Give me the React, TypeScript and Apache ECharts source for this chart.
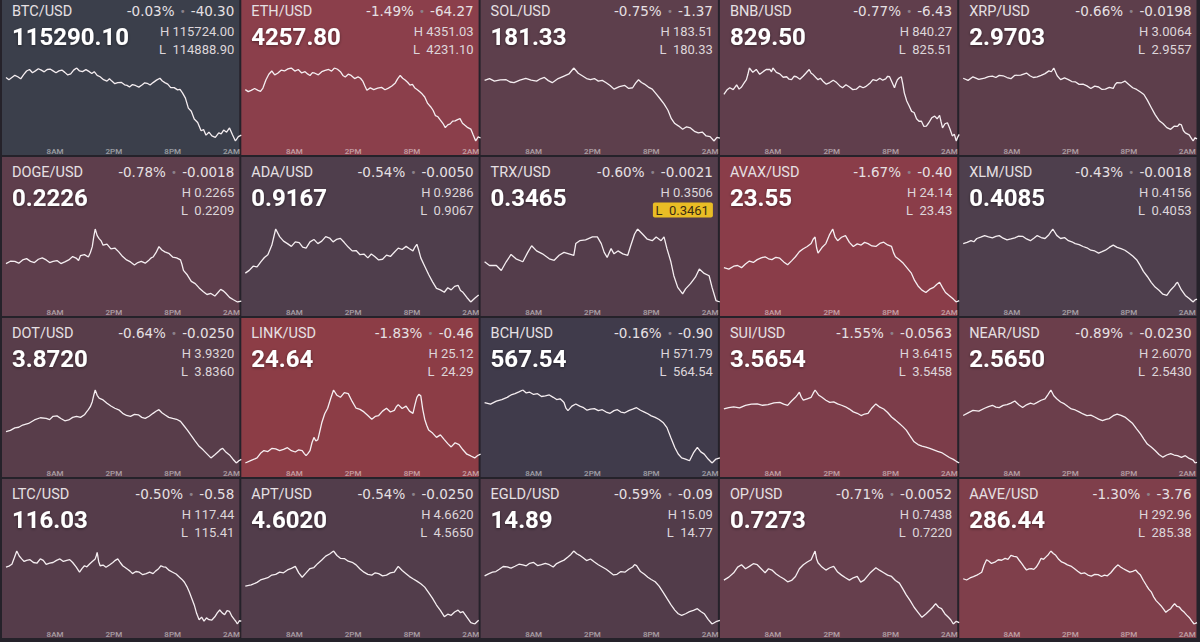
import React, { useEffect, useRef } from "react";
import * as echarts from "echarts";

const PAIRS = ["BTC/USD","ETH/USD","SOL/USD","BNB/USD","XRP/USD","DOGE/USD","ADA/USD","TRX/USD","AVAX/USD","XLM/USD","DOT/USD","LINK/USD","BCH/USD","SUI/USD","NEAR/USD","LTC/USD","APT/USD","EGLD/USD","OP/USD","AAVE/USD"];
const LAST = ["115290.10","4257.80","181.33","829.50","2.9703","0.2226","0.9167","0.3465","23.55","0.4085","3.8720","24.64","567.54","3.5654","2.5650","116.03","4.6020","14.89","0.7273","286.44"];
const CHANGE_PCT = ["-0.03%","-1.49%","-0.75%","-0.77%","-0.66%","-0.78%","-0.54%","-0.60%","-1.67%","-0.43%","-0.64%","-1.83%","-0.16%","-1.55%","-0.89%","-0.50%","-0.54%","-0.59%","-0.71%","-1.30%"];
const CHANGE_ABS = ["-40.30","-64.27","-1.37","-6.43","-0.0198","-0.0018","-0.0050","-0.0021","-0.40","-0.0018","-0.0250","-0.46","-0.90","-0.0563","-0.0230","-0.58","-0.0250","-0.09","-0.0052","-3.76"];
const HIGH = ["115724.00","4351.03","183.51","840.27","3.0064","0.2265","0.9286","0.3506","24.14","0.4156","3.9320","25.12","571.79","3.6415","2.6070","117.44","4.6620","15.09","0.7438","292.96"];
const LOW = ["114888.90","4231.10","180.33","825.51","2.9557","0.2209","0.9067","0.3461","23.43","0.4053","3.8360","24.29","564.54","3.5458","2.5430","115.41","4.5650","14.77","0.7220","285.38"];
const LOW_HIGHLIGHTED = ["TRX/USD"];
const TIME_TICKS = [5, 11, 17, 23];
const TIME_LABELS = ["8AM", "2PM", "8PM", "2AM"];

// [hours since 3AM, price]
const BTC = [[0,115615],[0.3,115590],[0.6,115615],[0.9,115640],[1.2,115624],[1.5,115600],[1.8,115649],[2.1,115690],[2.4,115707],[2.7,115670],[3.0,115691],[3.3,115715],[3.6,115699],[3.9,115680],[4.2,115707],[4.5,115712],[4.8,115691],[5.1,115670],[5.4,115691],[5.7,115700],[6.0,115674],[6.3,115645],[6.6,115657],[6.9,115700],[7.2,115724],[7.5,115690],[7.8,115682],[8.15,115705],[8.5,115682],[8.75,115660],[9.0,115682],[9.3,115640],[9.6,115624],[9.95,115590],[10.3,115574],[10.55,115600],[10.8,115574],[11.1,115545],[11.4,115557],[11.75,115560],[12.1,115532],[12.35,115525],[12.6,115507],[12.9,115535],[13.2,115524],[13.55,115505],[13.9,115532],[14.15,115555],[14.4,115549],[14.7,115530],[15.0,115557],[15.35,115585],[15.7,115607],[15.95,115575],[16.2,115557],[16.5,115540],[16.8,115499],[17.15,115500],[17.5,115474],[17.75,115480],[18.0,115440],[18.3,115380],[18.6,115265],[18.9,115230],[19.2,115140],[19.55,115100],[19.9,115006],[20.15,115020],[20.4,114956],[20.7,114990],[21.0,114947],[21.35,114930],[21.7,114981],[21.95,114970],[22.2,115014],[22.5,114990],[22.8,115039],[23.1,114960],[23.4,114889],[23.7,114940],[24.0,114956]];
const ETH = [[0,4316.2],[0.3,4313.0],[0.6,4315.1],[0.95,4318.0],[1.3,4315.1],[1.55,4313.5],[1.8,4318.7],[2.1,4331.8],[2.4,4341.0],[2.7,4346.2],[3.0,4340.0],[3.3,4342.6],[3.65,4347.5],[4.0,4346.2],[4.35,4349.5],[4.7,4351.0],[5.05,4346.0],[5.4,4348.6],[5.75,4343.0],[6.1,4345.0],[6.35,4341.5],[6.6,4339.0],[6.85,4343.5],[7.1,4342.6],[7.45,4340.0],[7.8,4345.0],[8.15,4347.0],[8.5,4348.6],[8.8,4346.0],[9.1,4351.0],[9.4,4349.0],[9.7,4345.0],[9.95,4339.0],[10.2,4336.6],[10.5,4341.0],[10.8,4339.0],[11.15,4334.0],[11.5,4336.6],[11.75,4334.5],[12.0,4329.4],[12.2,4322.0],[12.4,4315.1],[12.75,4319.0],[13.1,4316.2],[13.5,4318.5],[13.9,4319.8],[14.25,4316.0],[14.6,4318.7],[14.95,4322.0],[15.3,4327.0],[15.55,4334.0],[15.8,4339.0],[16.05,4334.5],[16.3,4331.8],[16.55,4328.0],[16.8,4323.4],[17.05,4324.5],[17.3,4318.7],[17.55,4316.0],[17.8,4312.7],[18.05,4309.0],[18.3,4304.3],[18.6,4294.0],[18.9,4288.7],[19.15,4283.0],[19.4,4274.3],[19.65,4272.5],[19.9,4267.1],[20.15,4262.0],[20.4,4255.1],[20.65,4259.5],[20.9,4261.1],[21.15,4265.5],[21.4,4265.9],[21.65,4268.0],[21.9,4269.5],[22.15,4262.0],[22.4,4258.7],[22.7,4255.0],[23.0,4252.7],[23.25,4243.0],[23.5,4233.5],[23.75,4240.0],[24.0,4238.3]];
const SOL = [[0,182.97],[0.5,183.05],[1.0,182.94],[1.6,182.99],[2.2,183.00],[2.6,182.90],[3.0,182.87],[3.6,182.98],[4.2,183.06],[4.75,182.98],[5.3,182.94],[5.7,183.04],[6.1,183.10],[6.5,182.96],[6.9,182.87],[7.5,183.05],[8.1,183.16],[8.6,183.25],[9.1,183.51],[9.55,183.28],[10.0,183.16],[10.4,183.05],[10.8,183.00],[11.2,183.05],[11.6,182.94],[12.0,182.97],[12.4,182.87],[12.8,182.75],[13.2,182.59],[13.75,182.70],[14.3,182.75],[14.7,182.62],[15.1,182.65],[15.4,182.85],[15.7,183.00],[16.0,182.88],[16.3,182.81],[16.7,182.68],[17.1,182.59],[17.5,182.38],[17.9,182.17],[18.3,181.95],[18.7,181.67],[19.05,181.30],[19.4,181.09],[19.8,180.98],[20.2,180.84],[20.6,180.95],[21.0,180.90],[21.4,180.75],[21.8,180.68],[22.2,180.72],[22.6,180.55],[23.0,180.52],[23.4,180.33],[23.7,180.49],[24.0,180.46]];
const BNB = [[0,834.96],[0.3,835.8],[0.6,836.28],[0.95,835.9],[1.3,836.88],[1.55,836.0],[1.8,836.43],[2.05,837.2],[2.3,837.91],[2.45,839.0],[2.6,840.27],[2.95,839.4],[3.3,839.97],[3.65,839.0],[4.0,839.53],[4.35,840.0],[4.7,839.97],[4.85,839.5],[5.0,840.27],[5.35,839.4],[5.7,839.09],[6.05,838.4],[6.4,838.50],[6.65,838.0],[6.9,837.91],[7.15,838.6],[7.4,838.50],[7.75,838.0],[8.1,838.65],[8.4,839.3],[8.7,839.97],[8.9,839.2],[9.1,838.94],[9.35,838.4],[9.6,837.91],[9.85,838.2],[10.1,837.61],[10.45,837.0],[10.8,837.32],[11.15,837.8],[11.5,837.32],[11.8,836.7],[12.1,836.28],[12.45,836.9],[12.8,836.43],[13.15,835.9],[13.5,835.99],[13.85,836.6],[14.2,836.28],[14.45,836.5],[14.7,836.88],[14.95,837.3],[15.2,837.91],[15.55,837.7],[15.9,838.20],[16.2,837.8],[16.5,838.06],[16.7,838.6],[16.9,838.50],[17.15,837.4],[17.4,836.28],[17.55,837.2],[17.7,837.91],[17.9,838.3],[18.1,838.50],[18.25,837.0],[18.4,835.25],[18.65,833.6],[18.9,832.59],[19.15,831.5],[19.4,831.27],[19.65,830.0],[19.9,829.50],[20.15,829.5],[20.4,828.46],[20.65,828.5],[20.9,829.20],[21.2,830.2],[21.5,830.53],[21.75,830.0],[22.0,830.68],[22.15,829.4],[22.3,828.17],[22.55,829.0],[22.8,829.20],[23.05,828.0],[23.3,826.54],[23.5,826.9],[23.7,825.51],[23.85,826.3],[24.0,826.84]];
const XRP = [[0,2.9993],[0.5,2.9978],[1.0,3.0003],[1.6,2.9985],[2.2,2.9993],[2.6,3.0004],[3.0,3.0008],[3.35,2.9998],[3.7,3.0013],[4.1,3.0010],[4.5,2.9998],[4.9,2.9990],[5.3,3.0013],[5.9,3.0015],[6.5,3.0029],[6.85,3.0010],[7.2,2.9998],[7.6,3.0002],[8.0,3.0013],[8.4,3.0025],[8.8,3.0044],[9.05,3.0038],[9.3,3.0064],[9.65,3.0010],[10.0,2.9983],[10.4,2.9995],[10.8,2.9983],[11.15,2.9970],[11.5,2.9968],[11.9,2.9950],[12.3,2.9952],[12.7,2.9940],[13.1,2.9922],[13.5,2.9938],[13.9,2.9932],[14.25,2.9915],[14.6,2.9917],[15.0,2.9930],[15.4,2.9922],[15.6,2.9950],[15.8,2.9963],[16.2,2.9960],[16.6,2.9973],[17.0,2.9950],[17.4,2.9927],[17.8,2.9915],[18.2,2.9897],[18.55,2.9880],[18.9,2.9841],[19.3,2.9790],[19.7,2.9740],[20.1,2.9700],[20.5,2.9679],[20.9,2.9650],[21.3,2.9638],[21.65,2.9660],[22.0,2.9658],[22.2,2.9675],[22.4,2.9669],[22.6,2.9630],[22.8,2.9613],[23.2,2.9600],[23.6,2.9557],[23.8,2.9580],[24.0,2.9572]];
const DOGE = [[0,0.22387],[0.45,0.22405],[0.9,0.22404],[1.3,0.2239],[1.7,0.22415],[2.1,0.22425],[2.5,0.22404],[2.9,0.22395],[3.3,0.2242],[3.7,0.2243],[4.1,0.22415],[4.45,0.22395],[4.8,0.22404],[5.2,0.2241],[5.6,0.22387],[6.0,0.224],[6.4,0.22415],[6.8,0.2244],[7.2,0.22426],[7.4,0.2241],[7.6,0.22448],[8.0,0.22455],[8.4,0.22437],[8.6,0.2247],[8.8,0.22516],[8.95,0.2259],[9.1,0.2265],[9.3,0.226],[9.5,0.22577],[9.7,0.2256],[9.9,0.22527],[10.3,0.22535],[10.7,0.22499],[11.1,0.22505],[11.5,0.22476],[11.9,0.2244],[12.3,0.22415],[12.7,0.224],[13.1,0.22376],[13.45,0.22395],[13.8,0.22404],[14.2,0.2239],[14.6,0.22415],[14.8,0.2243],[15.0,0.22437],[15.3,0.2247],[15.6,0.22516],[15.9,0.2249],[16.2,0.22476],[16.6,0.22465],[17.0,0.22437],[17.4,0.2243],[17.8,0.22415],[17.95,0.2238],[18.1,0.22336],[18.5,0.223],[18.9,0.22252],[19.3,0.22235],[19.7,0.22202],[20.1,0.22175],[20.5,0.22152],[20.9,0.2216],[21.3,0.2214],[21.6,0.22165],[21.9,0.22191],[22.15,0.2218],[22.4,0.22163],[22.8,0.2213],[23.2,0.22112],[23.6,0.22095],[24.0,0.22101]];
const ADA = [[0,0.915],[0.4,0.9158],[0.8,0.917],[1.2,0.9168],[1.6,0.9183],[1.95,0.9195],[2.3,0.9203],[2.7,0.923],[3.1,0.9277],[3.5,0.9255],[3.9,0.9242],[4.3,0.9235],[4.7,0.9227],[5.1,0.924],[5.5,0.9238],[5.85,0.9225],[6.2,0.9222],[6.6,0.924],[7.0,0.9247],[7.4,0.9235],[7.8,0.9242],[8.2,0.9255],[8.6,0.9251],[8.95,0.924],[9.3,0.9247],[9.7,0.925],[10.1,0.9238],[10.5,0.9225],[10.9,0.9214],[11.3,0.9215],[11.7,0.9203],[12.1,0.9205],[12.5,0.9194],[12.85,0.9205],[13.2,0.9198],[13.6,0.9188],[14.0,0.919],[14.4,0.9202],[14.8,0.9198],[15.2,0.921],[15.6,0.9222],[16.0,0.9218],[16.4,0.9227],[16.75,0.922],[17.1,0.9214],[17.3,0.9225],[17.5,0.9233],[17.7,0.9215],[17.9,0.9194],[18.3,0.917],[18.7,0.9146],[19.1,0.9125],[19.5,0.9106],[19.9,0.9102],[20.3,0.9095],[20.65,0.9108],[21.0,0.9102],[21.35,0.9112],[21.7,0.9115],[21.95,0.91],[22.2,0.9095],[22.6,0.908],[23.0,0.9067],[23.4,0.9078],[23.8,0.9087]];
const TRX = [[0,0.34858],[0.5,0.34835],[1.2,0.34835],[1.7,0.34804],[2.2,0.34858],[2.7,0.34903],[3.2,0.34876],[3.9,0.34858],[4.4,0.34916],[4.8,0.34957],[5.3,0.34925],[5.9,0.34907],[6.6,0.34876],[7.1,0.34867],[7.6,0.34898],[8.1,0.34916],[8.6,0.34907],[9.1,0.34898],[9.3,0.3497],[9.7,0.34988],[10.3,0.34993],[11.0,0.35011],[11.5,0.35011],[11.9,0.3497],[12.2,0.34916],[12.5,0.34885],[12.9,0.34939],[13.2,0.34907],[13.6,0.34925],[14.1,0.34907],[14.6,0.34898],[14.9,0.34957],[15.3,0.35029],[15.6,0.3506],[16.1,0.35029],[16.6,0.34997],[17.1,0.34988],[17.5,0.35011],[18.0,0.34988],[18.3,0.35011],[18.6,0.34939],[19.0,0.34858],[19.3,0.34772],[19.7,0.347],[20.2,0.3466],[20.5,0.34691],[21.0,0.34723],[21.5,0.34763],[21.9,0.34813],[22.4,0.34786],[22.9,0.34772],[23.2,0.347],[23.6,0.34619],[24.0,0.3461]];
const AVAX = [[0,23.764],[0.5,23.75],[1.0,23.778],[1.4,23.785],[1.8,23.764],[2.2,23.8],[2.6,23.828],[3.0,23.815],[3.4,23.842],[3.8,23.86],[4.2,23.87],[4.55,23.85],[4.9,23.842],[5.3,23.865],[5.7,23.856],[6.1,23.82],[6.5,23.792],[6.9,23.83],[7.3,23.87],[7.7,23.92],[8.1,23.948],[8.5,23.97],[8.9,23.998],[9.1,24.04],[9.3,24.062],[9.45,23.96],[9.6,23.906],[10.0,23.96],[10.4,23.998],[10.75,24.08],[11.1,24.14],[11.35,24.06],[11.6,24.026],[12.0,24.06],[12.4,24.076],[12.8,24.01],[13.2,23.97],[13.6,23.995],[14.0,23.984],[14.35,24.01],[14.7,23.998],[15.1,23.975],[15.5,23.97],[15.9,24.0],[16.3,24.012],[16.7,23.985],[17.1,23.97],[17.3,23.91],[17.5,23.87],[17.9,23.84],[18.3,23.806],[18.7,23.76],[19.1,23.714],[19.45,23.64],[19.8,23.586],[20.2,23.545],[20.6,23.522],[21.0,23.555],[21.4,23.572],[21.7,23.6],[22.0,23.622],[22.3,23.57],[22.6,23.522],[23.0,23.49],[23.4,23.458],[23.7,23.43],[24.0,23.444]];
const XLM = [[0,0.41354],[0.4,0.4137],[0.8,0.41395],[1.1,0.4138],[1.4,0.41426],[1.8,0.41445],[2.2,0.41467],[2.6,0.4145],[3.0,0.41436],[3.35,0.41455],[3.7,0.41467],[4.1,0.4143],[4.5,0.41406],[4.9,0.4142],[5.3,0.41436],[5.7,0.4146],[6.1,0.41457],[6.5,0.4142],[6.9,0.41395],[7.25,0.4143],[7.6,0.41467],[8.0,0.4144],[8.4,0.41426],[8.8,0.4148],[9.2,0.4156],[9.6,0.4147],[10.0,0.41426],[10.4,0.4144],[10.8,0.41395],[11.15,0.4138],[11.5,0.41354],[11.9,0.4134],[12.3,0.41313],[12.7,0.41295],[13.1,0.41261],[13.5,0.4125],[13.9,0.4122],[14.25,0.4124],[14.6,0.41261],[15.0,0.413],[15.4,0.41333],[15.8,0.413],[16.2,0.41282],[16.6,0.4126],[17.0,0.4122],[17.4,0.4118],[17.8,0.41127],[18.15,0.4105],[18.5,0.40963],[18.9,0.4089],[19.3,0.40808],[19.7,0.4074],[20.1,0.40695],[20.5,0.4064],[20.9,0.40623],[21.3,0.407],[21.7,0.40757],[21.85,0.4079],[22.0,0.40808],[22.4,0.407],[22.8,0.40623],[23.2,0.4058],[23.6,0.4053],[23.8,0.4056],[24.0,0.40571]];
const DOT = [[0,3.8773],[0.45,3.879],[0.9,3.8821],[1.3,3.883],[1.7,3.8859],[2.3,3.888],[2.9,3.8926],[3.5,3.8955],[4.1,3.8946],[4.45,3.893],[4.8,3.8974],[5.2,3.898],[5.6,3.8946],[6.0,3.8915],[6.4,3.8926],[6.8,3.896],[7.2,3.8974],[7.6,3.896],[8.0,3.8994],[8.2,3.903],[8.4,3.9061],[8.6,3.91],[8.8,3.9166],[8.95,3.925],[9.1,3.932],[9.3,3.925],[9.5,3.9214],[9.9,3.919],[10.3,3.9147],[10.7,3.911],[11.1,3.908],[11.5,3.906],[11.9,3.9013],[12.3,3.8985],[12.7,3.8974],[13.1,3.9],[13.5,3.8994],[13.85,3.896],[14.2,3.8946],[14.6,3.8975],[15.0,3.9013],[15.3,3.904],[15.6,3.9061],[15.9,3.902],[16.2,3.8994],[16.6,3.896],[17.0,3.8946],[17.4,3.8935],[17.8,3.8907],[18.15,3.885],[18.5,3.8792],[18.9,3.872],[19.3,3.8648],[19.7,3.858],[20.1,3.8533],[20.5,3.848],[20.9,3.8427],[21.3,3.847],[21.7,3.8514],[21.9,3.854],[22.1,3.8552],[22.45,3.85],[22.8,3.8466],[23.15,3.841],[23.5,3.836],[23.75,3.839],[24.0,3.8408]];
const LINK = [[0,24.29],[0.6,24.32],[1.2,24.348],[1.55,24.4],[1.9,24.431],[2.3,24.42],[2.7,24.456],[3.1,24.45],[3.5,24.431],[3.9,24.445],[4.3,24.464],[4.7,24.43],[5.1,24.415],[5.45,24.44],[5.8,24.431],[6.0,24.4],[6.2,24.373],[6.4,24.4],[6.6,24.431],[6.8,24.52],[7.0,24.581],[7.2,24.54],[7.4,24.556],[7.6,24.65],[7.8,24.747],[8.1,24.85],[8.4,24.913],[8.7,25.02],[9.0,25.12],[9.35,25.06],[9.7,25.037],[10.1,25.09],[10.5,25.079],[10.9,24.99],[11.3,24.913],[11.7,24.9],[12.1,24.871],[12.5,24.83],[12.9,24.788],[13.25,24.82],[13.6,24.83],[14.0,24.88],[14.4,24.913],[14.8,24.87],[15.2,24.888],[15.4,24.93],[15.6,24.954],[16.0,24.91],[16.4,24.937],[16.75,24.88],[17.1,24.854],[17.3,24.95],[17.5,25.037],[17.7,25.07],[17.9,25.054],[18.1,24.9],[18.3,24.788],[18.5,24.72],[18.7,24.664],[19.1,24.63],[19.5,24.581],[19.9,24.61],[20.3,24.556],[20.65,24.51],[21.0,24.473],[21.4,24.52],[21.8,24.498],[22.2,24.44],[22.6,24.39],[23.0,24.37],[23.4,24.348],[23.7,24.375],[24.0,24.39]];
const BCH = [[0,570.56],[0.6,570.4],[1.2,570.7],[1.75,570.85],[2.3,571.07],[2.7,571.3],[3.1,571.43],[3.5,571.6],[3.9,571.79],[4.25,571.5],[4.6,571.57],[5.0,571.35],[5.4,571.43],[5.8,571.15],[6.2,571.21],[6.6,571.3],[7.0,571.07],[7.35,570.85],[7.7,570.92],[7.9,570.75],[8.1,570.56],[8.3,570.0],[8.5,569.76],[8.9,570.2],[9.3,570.41],[9.7,570.2],[10.1,570.05],[10.45,569.8],[10.8,569.91],[11.2,569.95],[11.6,569.76],[12.0,569.85],[12.4,569.62],[12.8,569.5],[13.2,569.76],[13.55,569.85],[13.9,569.62],[14.3,569.55],[14.7,569.76],[15.1,569.9],[15.5,570.05],[15.9,569.8],[16.3,569.62],[16.65,569.45],[17.0,569.25],[17.4,569.1],[17.8,568.89],[18.2,568.6],[18.6,568.09],[19.0,567.1],[19.4,566.14],[19.75,565.5],[20.1,565.12],[20.5,565.0],[20.9,564.83],[21.3,565.6],[21.7,566.14],[22.05,565.7],[22.4,565.48],[22.8,565.0],[23.2,564.61],[23.6,565.0],[24.0,565.12]];
const SUI = [[0,3.6166],[0.5,3.6185],[1.0,3.6195],[1.6,3.618],[2.2,3.6214],[2.8,3.623],[3.4,3.6233],[3.95,3.6215],[4.5,3.6224],[5.1,3.6245],[5.7,3.6252],[6.1,3.623],[6.5,3.6214],[6.9,3.627],[7.3,3.6319],[7.5,3.635],[7.7,3.6386],[7.9,3.632],[8.1,3.6281],[8.5,3.63],[8.9,3.6319],[9.1,3.637],[9.3,3.6415],[9.65,3.635],[10.0,3.6319],[10.4,3.628],[10.8,3.6252],[11.2,3.626],[11.6,3.6233],[12.0,3.6215],[12.4,3.6195],[12.8,3.6165],[13.2,3.6128],[13.6,3.611],[14.0,3.608],[14.35,3.61],[14.7,3.6109],[15.1,3.618],[15.5,3.6233],[15.9,3.619],[16.3,3.6166],[16.7,3.612],[17.1,3.6061],[17.5,3.602],[17.9,3.5975],[18.25,3.5935],[18.6,3.5889],[19.0,3.581],[19.4,3.5736],[19.8,3.57],[20.2,3.5678],[20.6,3.5665],[21.0,3.5649],[21.4,3.563],[21.8,3.5611],[22.2,3.5595],[22.6,3.5563],[23.0,3.553],[23.4,3.5506],[23.7,3.548],[24.0,3.5458]];
const NEAR = [[0,2.5846],[0.5,2.587],[1.0,2.5891],[1.6,2.5885],[2.2,2.591],[2.6,2.5925],[3.0,2.5936],[3.35,2.592],[3.7,2.5916],[4.1,2.5935],[4.5,2.5942],[4.9,2.5955],[5.3,2.5974],[5.7,2.594],[6.1,2.5916],[6.5,2.594],[6.9,2.5955],[7.25,2.5945],[7.6,2.5961],[8.0,2.598],[8.4,2.5993],[8.7,2.603],[9.0,2.607],[9.3,2.602],[9.6,2.5993],[10.0,2.5965],[10.4,2.5948],[10.75,2.5925],[11.1,2.5904],[11.5,2.5895],[11.9,2.5878],[12.3,2.586],[12.7,2.5846],[13.1,2.585],[13.5,2.5833],[13.9,2.5815],[14.3,2.5801],[14.65,2.5812],[15.0,2.582],[15.4,2.5845],[15.8,2.5859],[16.2,2.5848],[16.6,2.5833],[17.0,2.5805],[17.4,2.5776],[17.8,2.573],[18.2,2.5686],[18.55,2.564],[18.9,2.5596],[19.3,2.557],[19.7,2.5539],[20.1,2.5505],[20.5,2.5481],[20.9,2.55],[21.3,2.5513],[21.65,2.55],[22.0,2.5494],[22.4,2.548],[22.8,2.5494],[23.2,2.547],[23.6,2.5456],[23.8,2.543],[24.0,2.5436]];
const LTC = [[0,116.99],[0.3,117.02],[0.6,117.07],[0.85,117.25],[1.1,117.44],[1.35,117.3],[1.6,117.22],[1.85,117.15],[2.1,117.18],[2.45,117.2],[2.8,117.12],[3.15,117.1],[3.5,117.22],[3.8,117.18],[4.1,117.07],[4.45,117.1],[4.8,117.12],[5.15,117.18],[5.5,117.22],[5.85,117.15],[6.2,117.18],[6.5,117.2],[6.8,117.12],[7.15,117.0],[7.5,116.85],[7.75,116.95],[8.0,117.03],[8.25,117.0],[8.5,117.07],[8.8,117.15],[9.1,117.22],[9.2,117.3],[9.3,117.4],[9.45,117.15],[9.6,117.03],[9.9,117.05],[10.2,116.99],[10.55,117.05],[10.9,117.12],[11.15,117.18],[11.4,117.22],[11.65,117.12],[11.9,117.03],[12.15,116.98],[12.4,116.93],[12.65,116.88],[12.9,116.81],[13.25,116.87],[13.6,116.85],[13.95,116.78],[14.3,116.81],[14.65,116.85],[15.0,116.81],[15.25,116.88],[15.5,116.93],[15.65,116.98],[15.8,117.03],[16.05,117.0],[16.3,116.99],[16.65,116.9],[17.0,116.85],[17.35,116.8],[17.7,116.71],[17.95,116.65],[18.2,116.57],[18.45,116.45],[18.7,116.3],[18.95,116.12],[19.2,115.94],[19.45,115.7],[19.7,115.53],[19.95,115.6],[20.2,115.49],[20.45,115.58],[20.7,115.53],[21.0,115.52],[21.3,115.61],[21.55,115.72],[21.8,115.8],[22.05,115.72],[22.3,115.67],[22.55,115.78],[22.8,115.76],[23.05,115.62],[23.3,115.53],[23.45,115.48],[23.6,115.41],[23.8,115.5],[24.0,115.49]];
const APT = [[0,4.6154],[0.6,4.617],[1.2,4.6203],[1.55,4.6235],[1.9,4.6251],[2.3,4.6265],[2.7,4.63],[3.1,4.631],[3.5,4.6339],[3.9,4.633],[4.3,4.6368],[4.7,4.639],[5.1,4.6416],[5.45,4.633],[5.8,4.6271],[6.2,4.633],[6.6,4.6387],[7.0,4.64],[7.4,4.6455],[7.8,4.65],[8.2,4.6552],[8.6,4.658],[9.0,4.662],[9.35,4.656],[9.7,4.6523],[10.1,4.652],[10.5,4.6484],[10.9,4.647],[11.3,4.6436],[11.7,4.638],[12.1,4.6339],[12.5,4.631],[12.9,4.63],[13.25,4.633],[13.6,4.6319],[14.0,4.629],[14.4,4.63],[14.8,4.633],[15.2,4.6339],[15.4,4.638],[15.6,4.6416],[16.0,4.636],[16.4,4.6319],[16.75,4.628],[17.1,4.6251],[17.5,4.622],[17.9,4.6184],[18.3,4.614],[18.7,4.6067],[19.1,4.599],[19.5,4.5902],[19.9,4.583],[20.3,4.5747],[20.65,4.578],[21.0,4.5766],[21.35,4.581],[21.7,4.5834],[21.95,4.58],[22.2,4.5815],[22.6,4.574],[23.0,4.5669],[23.4,4.565],[23.8,4.5699]];
const EGLD = [[0,14.981],[0.4,14.99],[0.8,14.997],[1.15,15.0],[1.5,15.01],[1.9,15.022],[2.3,15.02],[2.7,15.015],[3.1,15.023],[3.5,15.032],[3.9,15.029],[4.25,15.025],[4.6,15.036],[5.0,15.04],[5.4,15.026],[5.8,15.03],[6.2,15.036],[6.6,15.03],[7.0,15.02],[7.35,15.035],[7.7,15.042],[8.1,15.05],[8.5,15.064],[8.8,15.075],[9.1,15.09],[9.4,15.078],[9.7,15.071],[10.05,15.06],[10.4,15.048],[10.8,15.055],[11.2,15.042],[11.6,15.03],[12.0,15.02],[12.4,15.01],[12.8,14.997],[13.15,14.985],[13.5,14.988],[13.9,15.0],[14.3,14.997],[14.7,15.01],[15.1,15.02],[15.3,15.03],[15.5,15.026],[15.9,15.0],[16.3,14.988],[16.65,14.975],[17.0,14.965],[17.4,14.955],[17.8,14.936],[18.2,14.91],[18.6,14.882],[19.0,14.855],[19.4,14.831],[19.75,14.815],[20.1,14.808],[20.5,14.815],[20.9,14.824],[21.3,14.83],[21.7,14.837],[22.05,14.825],[22.4,14.815],[22.8,14.79],[23.2,14.77],[23.6,14.78],[24.0,14.786]];
const OP = [[0,0.7351],[0.5,0.736],[1.0,0.7373],[1.4,0.739],[1.8,0.7397],[2.2,0.7385],[2.6,0.7392],[3.0,0.74],[3.4,0.7397],[3.8,0.7385],[4.2,0.7373],[4.55,0.7385],[4.9,0.7381],[5.3,0.737],[5.7,0.7362],[6.1,0.7355],[6.5,0.7346],[6.9,0.735],[7.3,0.7362],[7.7,0.7385],[8.1,0.7397],[8.5,0.7405],[8.9,0.7412],[9.1,0.7425],[9.3,0.7438],[9.45,0.7415],[9.6,0.7403],[10.0,0.739],[10.4,0.7381],[10.8,0.7388],[11.2,0.7392],[11.6,0.7375],[12.0,0.7366],[12.4,0.7358],[12.8,0.7351],[13.2,0.7358],[13.6,0.7362],[13.95,0.7345],[14.3,0.7351],[14.9,0.7372],[15.5,0.7388],[15.9,0.738],[16.3,0.7373],[16.7,0.7366],[17.1,0.7362],[17.5,0.735],[17.9,0.7342],[18.25,0.7325],[18.6,0.7307],[19.0,0.729],[19.4,0.727],[19.8,0.7255],[20.2,0.724],[20.6,0.725],[21.0,0.7261],[21.3,0.727],[21.6,0.7281],[21.9,0.727],[22.2,0.7266],[22.55,0.725],[22.9,0.724],[23.15,0.7232],[23.4,0.722],[23.7,0.7228],[24.0,0.7224]];
const AAVE = [[0,290.08],[0.35,289.95],[0.7,290.16],[1.05,290.3],[1.4,290.46],[1.65,290.6],[1.9,290.76],[2.15,291.5],[2.4,292.05],[2.65,291.9],[2.9,291.67],[3.25,291.8],[3.6,292.05],[3.95,292.0],[4.3,292.2],[4.6,292.1],[4.9,292.51],[5.2,292.4],[5.5,292.35],[5.75,292.0],[6.0,291.67],[6.25,291.3],[6.5,290.99],[6.75,291.1],[7.0,291.14],[7.25,291.05],[7.5,291.29],[7.75,291.7],[8.0,292.2],[8.25,292.1],[8.5,292.35],[8.75,292.6],[9.0,292.96],[9.25,292.7],[9.5,292.51],[9.8,292.1],[10.1,291.82],[10.4,291.7],[10.7,291.52],[11.05,291.4],[11.4,291.14],[11.75,290.85],[12.1,290.61],[12.45,290.7],[12.8,290.46],[13.15,290.35],[13.5,290.53],[13.85,290.5],[14.2,290.31],[14.5,290.45],[14.8,290.38],[15.15,290.7],[15.5,291.14],[15.7,291.35],[15.9,291.52],[16.15,291.3],[16.4,291.14],[16.75,290.95],[17.1,290.76],[17.4,290.85],[17.7,290.99],[17.95,290.7],[18.2,290.46],[18.5,289.9],[18.8,289.4],[19.05,289.0],[19.3,288.72],[19.55,288.2],[19.8,287.81],[20.05,287.55],[20.3,287.28],[20.55,286.95],[20.8,286.59],[21.05,286.8],[21.3,286.97],[21.5,287.25],[21.7,287.5],[21.95,287.2],[22.2,287.12],[22.45,286.8],[22.7,286.59],[22.95,286.3],[23.2,286.06],[23.45,285.7],[23.7,285.38],[24.0,285.53]];

const SERIES = [BTC, ETH, SOL, BNB, XRP, DOGE, ADA, TRX, AVAX, XLM, DOT, LINK, BCH, SUI, NEAR, LTC, APT, EGLD, OP, AAVE];

const TILE_COLORS = ["#3b3f4b","#8b3f4b","#5d3f4c","#603e4c","#5d3e4b","#5e3e4c","#4f3e4c","#543d4b","#8a3d49","#4e3f4d","#583d4a","#8c3d46","#403b4b","#7c3d4a","#6b3e4b","#553c4a","#523d4b","#523c4a","#663f4d","#7f3f4b"];

const FONT = "Roboto, 'Noto Sans', sans-serif";
const WIDE_FONT = "'DejaVu Sans', Roboto, sans-serif";
const COLS = 5;
const COL_PITCH = 239.3;
const TILE_W = 237.3;
const ROW_PITCH = 161;
const TILE_H = 159;

function buildOption() {
  const graphic: any[] = [];
  const grid: any[] = [];
  const xAxis: any[] = [];
  const yAxis: any[] = [];
  const series: any[] = [];

  PAIRS.forEach((pair, k) => {
    const c = k % COLS;
    const r = Math.floor(k / COLS);
    const L = 2 + c * COL_PITCH;
    const T = -4 + r * ROW_PITCH;
    const R = L + TILE_W;

    graphic.push({
      type: "rect",
      z: 0,
      shape: { x: L, y: T, width: TILE_W, height: TILE_H },
      style: { fill: TILE_COLORS[k] },
      silent: true,
    });
    graphic.push({
      type: "text",
      z: 5,
      style: {
        text: pair, x: L + 10, y: T + 15, fill: "#e6e0e3",
        font: `14.5px ${FONT}`, textAlign: "left", align: "left",
        textVerticalAlign: "middle", verticalAlign: "middle",
      },
      silent: true,
    });
    graphic.push({
      type: "text",
      z: 5,
      style: {
        text: `{p|${CHANGE_PCT[k]}}{d| • }{p|${CHANGE_ABS[k]}}`,
        x: R - 5, y: T + 15,
        textAlign: "right", align: "right",
        textVerticalAlign: "middle", verticalAlign: "middle",
        rich: {
          p: { fill: "#e6e0e3", color: "#e6e0e3", fontSize: 13.5, fontFamily: WIDE_FONT },
          d: { fill: "#8c828a", color: "#8c828a", fontSize: 10, fontFamily: WIDE_FONT, padding: [0, 2] },
        },
      },
      silent: true,
    });
    graphic.push({
      type: "text",
      z: 5,
      style: {
        text: LAST[k], x: L + 10, y: T + 41, fill: "#ffffff",
        font: `bold 24px ${FONT}`, textAlign: "left", align: "left",
        textVerticalAlign: "middle", verticalAlign: "middle",
        textShadowColor: "rgba(0,0,0,0.45)", textShadowBlur: 3, textShadowOffsetY: 1,
      },
      silent: true,
    });
    graphic.push({
      type: "text",
      z: 5,
      style: {
        text: `H ${HIGH[k]}`, x: R - 5, y: T + 35, fill: "#ddd6da",
        font: `13px ${FONT}`, textAlign: "right", align: "right",
        textVerticalAlign: "middle", verticalAlign: "middle",
      },
      silent: true,
    });
    const hl = LOW_HIGHLIGHTED.indexOf(pair) >= 0;
    if (hl) {
      graphic.push({
        type: "rect",
        z: 4,
        shape: { x: R - 65, y: T + 45.5, width: 60, height: 15, r: 2 },
        style: { fill: "#e9bd25" },
        silent: true,
      });
    }
    graphic.push({
      type: "text",
      z: 5,
      style: {
        text: `L  ${LOW[k]}`, x: hl ? R - 9 : R - 5, y: T + 53,
        fill: hl ? "#3a2c12" : "#ddd6da",
        font: `13px ${FONT}`, textAlign: "right", align: "right",
        textVerticalAlign: "middle", verticalAlign: "middle",
      },
      silent: true,
    });

    grid.push({ left: L + 4, top: T + 72, width: TILE_W - 2, height: 73 });
    xAxis.push({
      gridIndex: k, type: "value", min: 0, max: 24, interval: 1,
      axisLine: { show: false }, axisTick: { show: false }, splitLine: { show: false },
      axisLabel: {
        show: true, margin: 6, fontSize: 8, fontFamily: FONT, fontWeight: 500,
        color: "rgba(255,255,255,0.5)",
        formatter: (v: number) => {
          const i = TIME_TICKS.indexOf(v);
          return i >= 0 ? TIME_LABELS[i] : "";
        },
      },
    });
    yAxis.push({
      gridIndex: k, type: "value", scale: true, show: false,
      min: (v: any) => v.min, max: (v: any) => v.max,
      splitLine: { show: false },
    });
    series.push({
      type: "line", xAxisIndex: k, yAxisIndex: k, data: SERIES[k],
      showSymbol: false, symbol: "none", silent: true, z: 3,
      lineStyle: { color: "#f5eef1", width: 1.3 },
    });
  });

  return {
    animation: false,
    backgroundColor: "#25222a",
    graphic,
    grid,
    xAxis,
    yAxis,
    series,
  };
}

export default function App() {
  const ref = useRef<HTMLDivElement>(null);
  useEffect(() => {
    if (!ref.current) return;
    const chart = echarts.init(ref.current, null, { renderer: "svg" });
    chart.setOption(buildOption());
    return () => chart.dispose();
  }, []);
  return (
    <div
      ref={ref}
      style={{ position: "fixed", left: 0, top: 0, width: 1200, height: 642 }}
    />
  );
}
